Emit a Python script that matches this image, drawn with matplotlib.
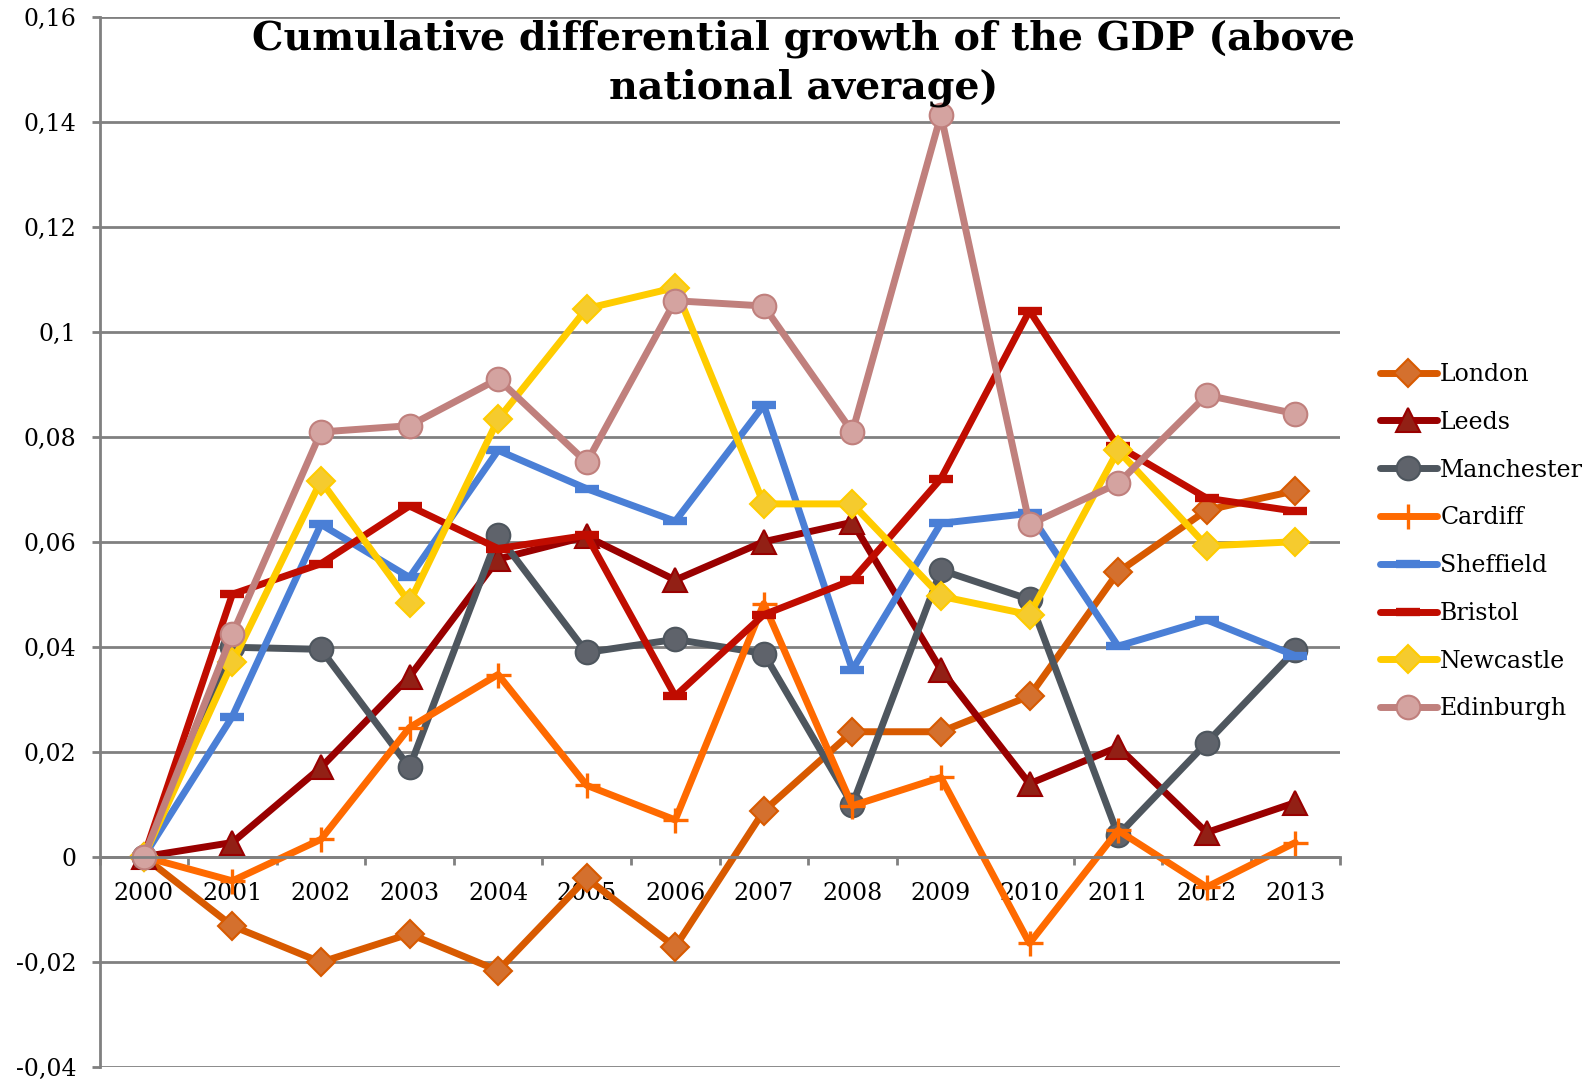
import matplotlib.pyplot as plt

years = ['2000', '2001', '2002', '2003', '2004', '2005', '2006',
         '2007', '2008', '2009', '2010', '2011', '2012', '2013']

london = [0, -0.0132, -0.0201, -0.0147, -0.0217, -0.0041, -0.0172,
          0.0087, 0.0238, 0.0238, 0.0306, 0.0542, 0.0660, 0.0697]
leeds = [0, 0.0027, 0.0170, 0.0343, 0.0567, 0.0610, 0.0527,
         0.0600, 0.0637, 0.0356, 0.0139, 0.0209, 0.0046, 0.0103]
manchester = [0, 0.0399, 0.0395, 0.0170, 0.0612, 0.0389, 0.0414,
              0.0387, 0.0099, 0.0546, 0.0490, 0.0041, 0.0217, 0.0393]
cardiff = [0, -0.0046, 0.0033, 0.0246, 0.0347, 0.0136, 0.0070,
           0.0482, 0.0097, 0.0151, -0.0165, 0.0050, -0.0058, 0.0027]
sheffield = [0, 0.0267, 0.0633, 0.0532, 0.0774, 0.0701, 0.0639,
             0.0860, 0.0356, 0.0635, 0.0654, 0.0401, 0.0451, 0.0383]
bristol = [0, 0.0500, 0.0558, 0.0668, 0.0587, 0.0612, 0.0306,
           0.0461, 0.0527, 0.0720, 0.1040, 0.0782, 0.0683, 0.0658]
newcastle = [0, 0.0370, 0.0716, 0.0484, 0.0833, 0.1044, 0.1084,
             0.0672, 0.0672, 0.0496, 0.0461, 0.0774, 0.0592, 0.0600]
edinburgh = [0, 0.0424, 0.0809, 0.0821, 0.0910, 0.0751, 0.1059,
             0.1049, 0.0809, 0.1413, 0.0633, 0.0711, 0.0879, 0.0844]

series = [
    ('London', london, '#D85A00', '#D4702E', 'D', 14),
    ('Leeds', leeds, '#990000', '#922015', '^', 17),
    ('Manchester', manchester, '#4E565E', '#5F636B', 'o', 17),
    ('Cardiff', cardiff, '#FF6A00', '#FF6A00', '+', 18),
    ('Sheffield', sheffield, '#4A7FD6', '#5B8CDB', '_', 17),
    ('Bristol', bristol, '#C00C00', '#B82010', '_', 17),
    ('Newcastle', newcastle, '#FFCC00', '#F5CB2E', 'D', 14),
    ('Edinburgh', edinburgh, '#C0807D', '#D4A3A0', 'o', 17),
]

plt.rcParams['font.family'] = ['DejaVu Serif']

fig = plt.figure(figsize=(15.93, 10.81), dpi=100)
ax = fig.add_axes([99.5 / 1593, 14.3 / 1081, 1240 / 1593, 1050 / 1081])

x = range(len(years))
for name, vals, color, fill, marker, ms in series:
    if marker == '_':
        mew = 6
    elif marker == '+':
        mew = 2.4
    else:
        mew = 1.5
    ax.plot(x, vals, color=color, lw=5, marker=marker, ms=ms,
            mfc=fill, mec=color, mew=mew, label=name,
            solid_joinstyle='round', solid_capstyle='round')

ax.set_xlim(-0.5, 13.5)
ax.set_ylim(-0.04, 0.16)
ax.set_yticks([-0.04 + 0.02 * i for i in range(11)])
ax.set_yticklabels(['-0,04', '-0,02', '0', '0,02', '0,04', '0,06', '0,08',
                    '0,1', '0,12', '0,14', '0,16'])
ax.grid(axis='y', color='#808080', lw=2)
ax.set_axisbelow(True)

for s in ['top', 'right']:
    ax.spines[s].set_visible(False)
ax.spines['left'].set_color('#808080')
ax.spines['left'].set_linewidth(2)
ax.spines['bottom'].set_position(('data', 0))
ax.spines['bottom'].set_color('#808080')
ax.spines['bottom'].set_linewidth(2)

# category ticks sit between years, labels centred under each year
ax.set_xticks([i + 0.5 for i in range(len(years) - 1)] + [-0.5, 13.5])
ax.set_xticklabels([])
ax.set_xticks(list(x), minor=True)
ax.set_xticklabels(years, minor=True)
ax.tick_params(axis='x', which='major', direction='out', length=5.5,
               width=2, color='#808080')
ax.tick_params(axis='x', which='minor', length=0, labelsize=17, pad=18)
ax.tick_params(axis='y', direction='out', length=5.5, width=2,
               color='#808080', labelsize=17, pad=11)

fig.text(0.5045, 1 - 19 / 1081,
         'Cumulative differential growth of the GDP (above\nnational average)',
         ha='center', va='top', fontsize=28.5, fontweight='bold',
         linespacing=1.38, zorder=10)

ax.legend(loc='center left', bbox_to_anchor=(1.025, 0.5), frameon=False,
          fontsize=17, handlelength=2.4, handletextpad=0.15,
          labelspacing=1.05, borderaxespad=0)

fig.savefig('out.png', dpi=100)
